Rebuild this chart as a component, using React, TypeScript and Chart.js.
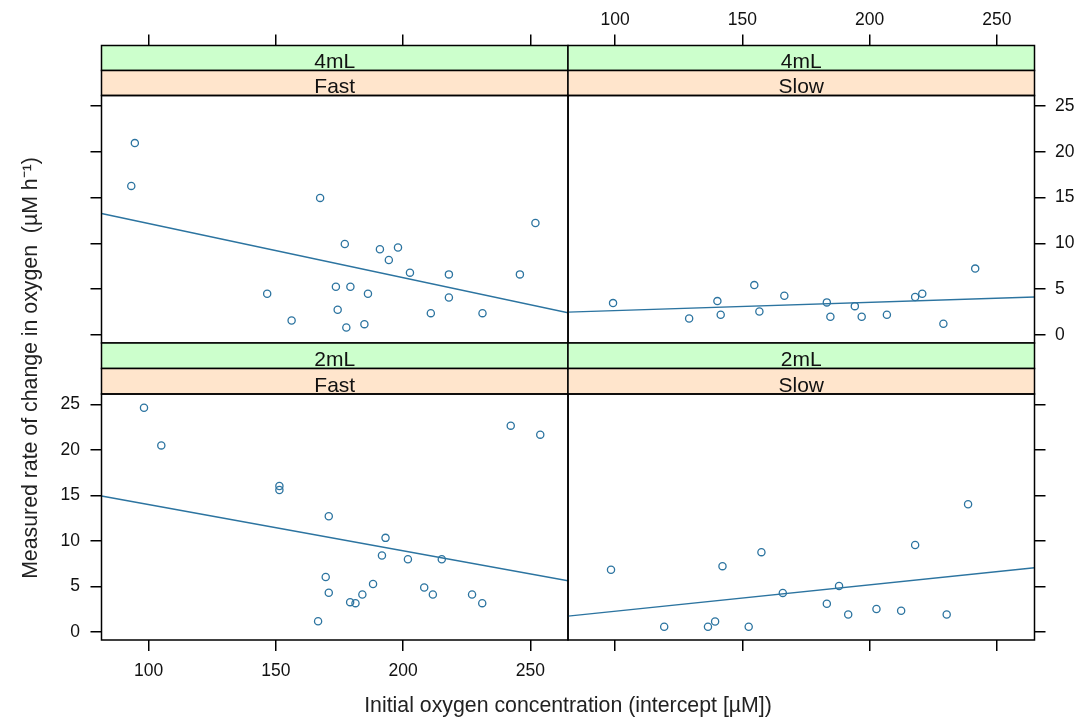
import React, { useEffect, useRef } from "react";
import { Chart, registerables } from "chart.js";

Chart.register(...registerables);

// ---------- data ----------
const VOLUMES = ["4mL", "2mL"];
const SPEEDS = ["Fast", "Slow"];
const X_TITLE = "Initial oxygen concentration (intercept [µM])";
const Y_TITLE = "Measured rate of change in oxygen  (µM h⁻¹)";

const X_MIN = 81.5;
const X_MAX = 264.8;
const Y_MIN = -0.9;
const Y_MAX = 26.15;
const X_TICKS = [100, 150, 200, 250];
const Y_TICKS = [0, 5, 10, 15, 20, 25];

// 4mL / Fast
const fast4mL_x = [94.6, 93.2, 167.4, 252.0, 177.1, 190.9, 198.0, 194.4, 202.7, 218.0, 245.9, 146.6, 173.6, 179.3, 186.2, 218.0, 174.3, 156.2, 177.7, 184.8, 210.9, 231.2];
const fast4mL_y = [20.95, 16.27, 14.96, 12.22, 9.92, 9.34, 9.53, 8.17, 6.79, 6.6, 6.6, 4.49, 5.25, 5.25, 4.49, 4.08, 2.73, 1.56, 0.8, 1.16, 2.36, 2.36];
// 4mL / Slow
const slow4mL_x = [99.2, 129.1, 140.2, 141.5, 154.7, 156.7, 166.5, 183.2, 184.6, 194.2, 196.9, 206.8, 217.9, 220.7, 229.0, 241.5];
const slow4mL_y = [3.46, 1.78, 3.68, 2.19, 5.43, 2.55, 4.27, 3.54, 1.97, 3.13, 1.97, 2.19, 4.12, 4.49, 1.2, 7.23];
// 2mL / Fast
const fast2mL_x = [98.2, 105.0, 151.4, 151.4, 170.8, 193.1, 191.7, 201.9, 215.2, 169.6, 170.8, 188.2, 184.0, 179.2, 181.3, 208.3, 211.7, 227.1, 231.1, 166.6, 242.3, 253.9];
const fast2mL_y = [24.63, 20.5, 16.04, 15.6, 12.7, 10.33, 8.39, 7.98, 7.98, 6.02, 4.3, 5.25, 4.11, 3.26, 3.15, 4.88, 4.11, 4.11, 3.15, 1.16, 22.67, 21.68];
// 2mL / Slow
const slow2mL_x = [98.4, 119.3, 136.5, 139.3, 142.2, 152.5, 157.5, 165.9, 183.2, 188.0, 191.6, 202.7, 212.4, 217.9, 230.3, 238.7];
const slow2mL_y = [6.82, 0.55, 0.55, 1.14, 7.22, 0.55, 8.76, 4.28, 3.09, 5.05, 1.91, 2.51, 2.32, 9.54, 1.91, 14.03];

// fitted regression lines, read at the panel edges (x = X_MIN, X_MAX)
const FIT_X = [X_MIN, X_MAX];
const fast4mL_fit = [13.25, 2.41];
const slow4mL_fit = [2.47, 4.12];
const fast2mL_fit = [14.94, 5.62];
const slow2mL_fit = [1.73, 7.04];

// ---------- style / layout ----------
const W = 1080;
const H = 718;
const FONT = '"Liberation Sans", Arial, Helvetica, sans-serif';
const PT_COLOR = "#2c74a0";
const GREEN = "#ccffcc";
const PEACH = "#ffe5cc";
const COLS = [
  { left: 101.5, right: 568 },
  { left: 568, right: 1034.5 },
];
const ROWS = [
  { stripTop: 45.5, top: 95.5, bottom: 343 },
  { stripTop: 343, top: 394, bottom: 640 },
];
const TICK_LEN = 11;
const AXIS_W = 60; // room kept for y tick labels
const AXIS_H = 50; // room kept for bottom x tick labels

const PANELS = [
  { row: 0, col: 0, volume: VOLUMES[0], speed: SPEEDS[0], xs: fast4mL_x, ys: fast4mL_y, fit: fast4mL_fit },
  { row: 0, col: 1, volume: VOLUMES[0], speed: SPEEDS[1], xs: slow4mL_x, ys: slow4mL_y, fit: slow4mL_fit },
  { row: 1, col: 0, volume: VOLUMES[1], speed: SPEEDS[0], xs: fast2mL_x, ys: fast2mL_y, fit: fast2mL_fit },
  { row: 1, col: 1, volume: VOLUMES[1], speed: SPEEDS[1], xs: slow2mL_x, ys: slow2mL_y, fit: slow2mL_fit },
];

type Spec = (typeof PANELS)[number];

function PanelChart({ spec, index }: { spec: Spec; index: number }) {
  const ref = useRef<HTMLCanvasElement>(null);

  useEffect(() => {
    const canvas = ref.current;
    if (!canvas) return;
    const row = ROWS[spec.row];
    const col = COLS[spec.col];
    const showLabels = (spec.row === 0 && spec.col === 1) || (spec.row === 1 && spec.col === 0);
    const fmt = (v: any) => (showLabels ? String(v) : "");
    const isTop = spec.row === 0;
    const isLeft = spec.col === 0;

    const xAxisH = isTop ? row.top : AXIS_H;
    const pad = {
      left: isLeft ? col.left - AXIS_W : col.left,
      right: isLeft ? W - col.right : W - col.right - AXIS_W,
      top: isTop ? 0 : row.top,
      bottom: isTop ? H - row.bottom : H - row.bottom - AXIS_H,
    };

    const framePlugin = {
      id: "frame" + index,
      afterDraw(chart: any) {
        const ctx = chart.ctx;
        const { left, right, top, bottom } = chart.chartArea;
        const h = (row.top - row.stripTop) / 2;
        const strips = [
          { y0: row.stripTop, y1: row.stripTop + h, fill: GREEN, text: spec.volume },
          { y0: row.stripTop + h, y1: row.top, fill: PEACH, text: spec.speed },
        ];
        ctx.save();
        ctx.lineWidth = 1.5;
        ctx.strokeStyle = "#000";
        for (const s of strips) {
          ctx.fillStyle = s.fill;
          ctx.fillRect(left, s.y0, right - left, s.y1 - s.y0);
          ctx.strokeRect(left, s.y0, right - left, s.y1 - s.y0);
          ctx.fillStyle = "#111";
          ctx.font = `21px ${FONT}`;
          ctx.textAlign = "center";
          ctx.textBaseline = "alphabetic";
          ctx.fillText(s.text, (left + right) / 2, s.y1 - 2.5);
        }
        ctx.strokeRect(left, top, right - left, bottom - top);

        if (spec.row === 1 && spec.col === 1) {
          ctx.fillStyle = "#222";
          ctx.font = `21.3px ${FONT}`;
          ctx.textAlign = "center";
          ctx.textBaseline = "middle";
          ctx.fillText(X_TITLE, (COLS[0].left + COLS[1].right) / 2, 706);
          ctx.translate(31, 368);
          ctx.rotate(-Math.PI / 2);
          ctx.fillText(Y_TITLE, 0, 0);
        }
        ctx.restore();
      },
    };

    const tickFont = { family: FONT, size: 17.5 };

    const chart = new Chart(canvas, {
      type: "scatter",
      data: {
        datasets: [
          {
            data: spec.xs.map((x, i) => ({ x, y: spec.ys[i] })),
            showLine: false,
            pointStyle: "circle",
            pointRadius: 3.6,
            pointBorderWidth: 1.3,
            pointBorderColor: PT_COLOR,
            pointBackgroundColor: "rgba(0,0,0,0)",
          },
          {
            data: FIT_X.map((x, i) => ({ x, y: spec.fit[i] })),
            showLine: true,
            pointRadius: 0,
            borderColor: PT_COLOR,
            borderWidth: 1.4,
          },
        ],
      },
      options: {
        responsive: false,
        maintainAspectRatio: false,
        animation: false,
        devicePixelRatio: 1,
        events: [],
        layout: { padding: pad },
        plugins: {
          legend: { display: false },
          tooltip: { enabled: false },
          title: { display: false },
        },
        scales: {
          x: {
            type: "linear",
            position: isTop ? "top" : "bottom",
            min: X_MIN,
            max: X_MAX,
            afterFit: (s: any) => {
              s.height = xAxisH;
            },
            afterBuildTicks: (s: any) => {
              s.ticks = X_TICKS.map((v) => ({ value: v }));
            },
            grid: {
              display: true,
              drawOnChartArea: false,
              drawTicks: true,
              tickLength: isTop ? row.top - row.stripTop + TICK_LEN : TICK_LEN,
              tickWidth: 1.5,
              tickColor: "#000",
              lineWidth: 1.5,
              color: "#000",
            },
            border: { display: false },
            ticks: {
              callback: fmt,
              font: tickFont,
              color: "#111",
              padding: isTop ? 4.3 : 10,
              maxRotation: 0,
              minRotation: 0,
              autoSkip: false,
            },
          },
          y: {
            type: "linear",
            position: isLeft ? "left" : "right",
            min: Y_MIN,
            max: Y_MAX,
            afterFit: (s: any) => {
              s.width = AXIS_W;
            },
            afterBuildTicks: (s: any) => {
              s.ticks = Y_TICKS.map((v) => ({ value: v }));
            },
            grid: {
              display: true,
              drawOnChartArea: false,
              drawTicks: true,
              tickLength: TICK_LEN,
              tickWidth: 1.5,
              tickColor: "#000",
              lineWidth: 1.5,
              color: "#000",
            },
            border: { display: false },
            ticks: {
              callback: fmt,
              font: tickFont,
              color: "#111",
              padding: isLeft ? 10.5 : 9.5,
              autoSkip: false,
            },
          },
        },
      },
      plugins: [framePlugin],
    } as any);

    return () => chart.destroy();
  }, [spec, index]);

  return (
    <canvas
      ref={ref}
      width={W}
      height={H}
      style={{ position: "absolute", left: 0, top: 0, width: W, height: H }}
    />
  );
}

export default function App() {
  return (
    <div
      style={{
        position: "absolute",
        left: 0,
        top: 0,
        width: W,
        height: H,
        background: "#ffffff",
        overflow: "hidden",
      }}
    >
      {PANELS.map((p, i) => (
        <PanelChart key={i} spec={p} index={i} />
      ))}
    </div>
  );
}
